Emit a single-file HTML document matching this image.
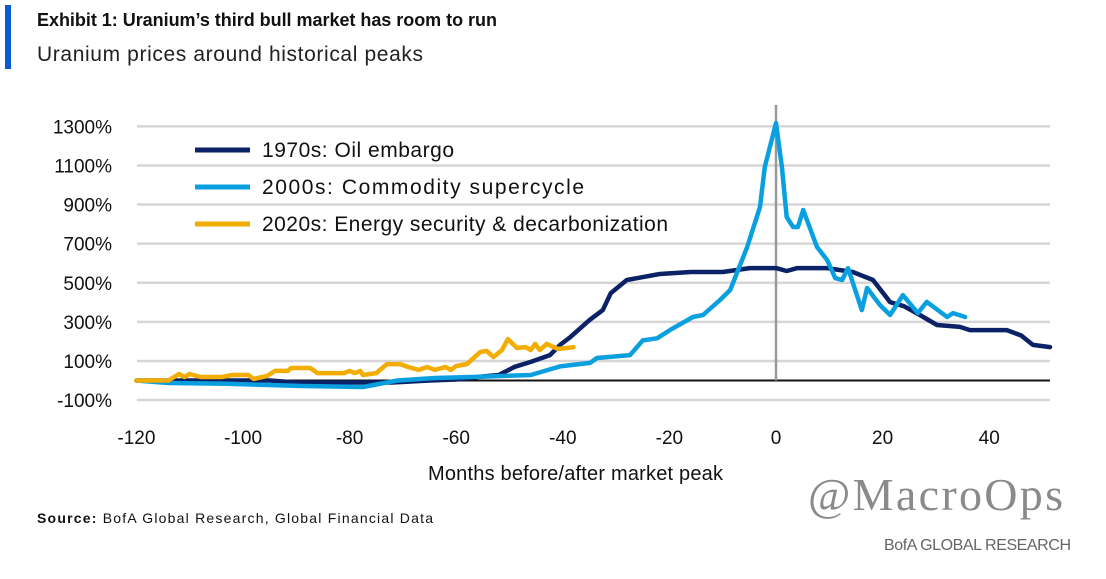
<!DOCTYPE html>
<html><head><meta charset="utf-8">
<style>
body{margin:0;background:#fff;width:1106px;height:574px;overflow:hidden;font-family:"Liberation Sans",sans-serif;}
</style></head>
<body>
<svg width="1106" height="574" xmlns="http://www.w3.org/2000/svg">
<rect x="5" y="5" width="6" height="64" fill="#0a5bd3"/>
<text x="37" y="26" font-size="18" font-weight="bold" fill="#111" textLength="460">Exhibit 1: Uranium’s third bull market has room to run</text>
<text x="37" y="61" font-size="21" fill="#222" textLength="386">Uranium prices around historical peaks</text>
<g id="grid"></g>
<g id="ylabels"></g>
<g id="xlabels"></g>
<g id="series"></g>
<text x="428" y="480" font-size="20" fill="#111" textLength="295">Months before/after market peak</text>
<g>
<line x1="195" y1="150" x2="250" y2="150" stroke="#0b2266" stroke-width="5"/>
<text x="262" y="157" font-size="21" fill="#111" textLength="192">1970s: Oil embargo</text>
<line x1="195" y1="187" x2="250" y2="187" stroke="#0aa0e0" stroke-width="5"/>
<text x="262" y="194" font-size="21" fill="#111" textLength="322">2000s: Commodity supercycle</text>
<line x1="195" y1="224" x2="250" y2="224" stroke="#f2ad00" stroke-width="5"/>
<text x="262" y="231" font-size="21" fill="#111" textLength="406">2020s: Energy security &amp; decarbonization</text>
</g>
<text x="808" y="510" font-size="46" font-family="Liberation Serif,serif" fill="#8a8a8a" textLength="255">@MacroOps</text>
<text x="37" y="523" font-size="14" fill="#111" textLength="396"><tspan font-weight="bold">Source:</tspan>   BofA Global Research, Global Financial Data</text>
<text x="884" y="550" font-size="16" fill="#666" textLength="187">BofA GLOBAL RESEARCH</text>
</svg>
<script>
const yTicks=[-100,100,300,500,700,900,1100,1300];
const xTicks=[-120,-100,-80,-60,-40,-20,0,20,40];
const m70=[-120,-95,-90,-72,-65,-60,-56,-52,-49,-46,-42.4,-40.5,-38.6,-35,-32.5,-31,-28,-21.8,-16,-10,-4.9,0,2,4,9.6,14.4,18.2,21.4,24,27,30.2,34.5,36.4,43.3,46,48.2,51.4];
const v70=[0,0,-10,-10,0,5,18,28,70,95,130,182,222,309,360,447,514,545,555,555,575,575,560,575,575,555,514,401,380,335,284,274,258,258,230,182,171];
const m00=[-120,-114,-103,-88.7,-77.5,-71,-64,-57,-46,-40.5,-34.9,-33.6,-27.4,-25,-22.3,-19.9,-15.6,-13.7,-10.5,-8.6,-5.4,-3,-2.1,0,1.1,2,3.2,4.1,5.1,7.7,9.6,11.1,12.4,13.5,16.1,17.1,19.5,21.4,23.8,26.6,28.3,32.1,33.2,35.5];
const v00=[0,-13,-17,-28,-33,0,13,18,28,72,90,115,130,205,216,258,325,335,412,463,683,888,1092,1317,1092,836,785,785,872,683,616,524,514,575,360,473,386,335,437,345,402,325,345,325];
const m20=[-120,-114,-112,-111,-110,-108,-104,-102,-99,-98,-95.5,-94,-91.6,-91,-87.4,-86,-81,-80,-79,-78,-77.5,-75,-73,-70.5,-69,-67,-65.5,-64,-62,-61,-60,-58,-55.5,-54.3,-53,-51.4,-50.3,-48.6,-47,-46,-45.2,-44.3,-43,-40.9,-38];
const v20=[0,0,33,18,33,18,18,28,28,8,23,49,49,64,64,38,38,49,38,49,28,38,84,84,69,54,69,54,69,54,74,84,146,151,120,156,212,166,171,156,187,156,187,161,171];
const X0=137,X1=1050;
function xs(m){return 776+m*5.33;}
function ys(v){return 380.5-v*0.1955;}
const NS="http://www.w3.org/2000/svg";
function mk(t,a,p){const e=document.createElementNS(NS,t);for(const k in a)e.setAttribute(k,a[k]);p.appendChild(e);return e;}
const grid=document.getElementById('grid');
yTicks.forEach(v=>{
 const l=mk('line',{x1:X0,x2:X1,y1:ys(v),y2:ys(v),stroke:'#d6d6d6','stroke-width':2.5},grid);
 
 
 const t=mk('text',{x:112,y:ys(v)+7,'font-size':19,'text-anchor':'end',fill:'#111'},document.getElementById('ylabels'));
 t.textContent=v+'%';
 
 
});
xTicks.forEach(m=>{
 const t=mk('text',{x:xs(m),y:444,'font-size':19,'text-anchor':'middle',fill:'#111'},document.getElementById('xlabels'));
 t.textContent=m;
 
 
});
const zl=mk('line',{x1:X0,x2:X1,y1:ys(0),y2:ys(0),stroke:'#111','stroke-width':2},grid);


const vl=mk('line',{x1:xs(0),x2:xs(0),y1:105,y2:ys(0),stroke:'#999','stroke-width':2.5},grid);


const ser=document.getElementById('series');
[[m70,v70,'#0b2266','line-1970s'],[m00,v00,'#0aa0e0','line-2000s'],[m20,v20,'#f2ad00','line-2020s']].forEach(s=>{
 const pts=s[0].map((m,i)=>xs(m).toFixed(1)+','+ys(s[1][i]).toFixed(1)).join(' ');
 const p=mk('polyline',{points:pts,fill:'none',stroke:s[2],'stroke-width':4.5,'stroke-linejoin':'round','stroke-linecap':'round'},ser);
 
 
});
</script>
</body></html>
